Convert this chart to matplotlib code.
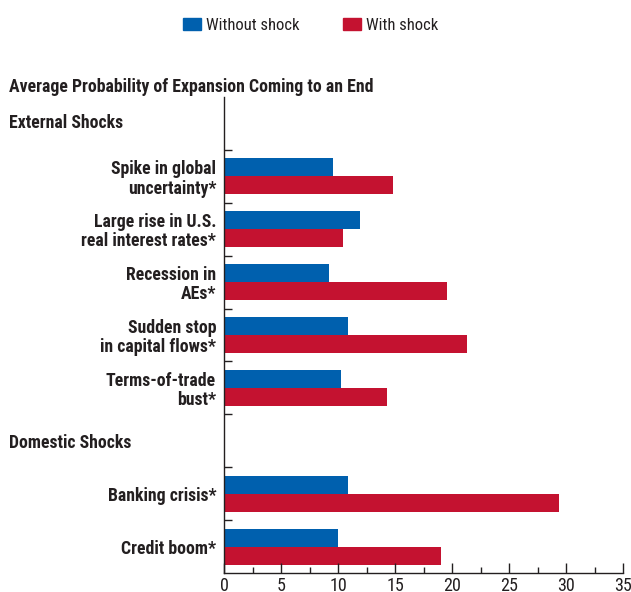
import matplotlib
matplotlib.use("Agg")
import matplotlib.pyplot as plt
import matplotlib.transforms as mtransforms
from matplotlib.patches import Patch
import numpy as np

plt.rcParams['font.family'] = ['Roboto Condensed', 'DejaVu Sans']

# Data
external = ['Spike in global\nuncertainty*', 'Large rise in U.S.\nreal interest rates*',
            'Recession in\nAEs*', 'Sudden stop\nin capital flows*', 'Terms-of-trade\nbust*']
external_without = [9.6, 11.9, 9.2, 10.9, 10.3]
external_with = [14.8, 10.4, 19.6, 21.3, 14.3]

domestic = ['Banking crisis*', 'Credit boom*']
domestic_without = [10.9, 10.0]
domestic_with = [29.4, 19.0]

blue = '#0060AE'
red = '#C41230'
ink = '#231f20'

# slot layout: header, 5 external, header, 2 domestic
ext_pos = np.arange(1, 6) + 0.5
dom_pos = np.arange(7, 9) + 0.5
h = 0.34

fig = plt.figure(figsize=(6.31, 5.92), dpi=100)
ax = fig.add_axes([224 / 631, 1 - 573 / 592, (623 - 224) / 631, (573 - 97) / 592])

ax.barh(ext_pos - h / 2, external_without, height=h, color=blue)
ax.barh(ext_pos + h / 2, external_with, height=h, color=red)
ax.barh(dom_pos - h / 2, domestic_without, height=h, color=blue)
ax.barh(dom_pos + h / 2, domestic_with, height=h, color=red)

ax.set_ylim(9, 0)
ax.set_xlim(0, 35)
ax.set_yticks(np.arange(1, 9))
ax.set_yticklabels([])
ax.set_xticks(np.arange(0, 36, 5))
ax.set_xticks(np.arange(0, 36, 2.5), minor=True)
ax.tick_params(axis='x', which='major', direction='in', length=7, width=1,
               labelsize=13, pad=3, colors=ink)
ax.tick_params(axis='x', which='minor', direction='in', length=4, width=1, colors=ink)
ax.tick_params(axis='y', direction='in', length=6, width=1, colors=ink)
for s in ['top', 'right']:
    ax.spines[s].set_visible(False)
for s in ['left', 'bottom']:
    ax.spines[s].set_linewidth(1)
    ax.spines[s].set_color(ink)

# category labels
for pos, lab in zip(list(ext_pos) + list(dom_pos), external + domestic):
    ax.text(-0.7, pos + 0.05, lab, ha='right', va='center', fontsize=12.8,
            fontweight='bold', color=ink, linespacing=1.08)

# section headers
trans = mtransforms.blended_transform_factory(fig.transFigure, ax.transData)
ax.text(9 / 631, 0.5, 'External Shocks', transform=trans, ha='left', va='center',
        fontsize=12.8, fontweight='bold', color=ink)
ax.text(9 / 631, 6.55, 'Domestic Shocks', transform=trans, ha='left', va='center',
        fontsize=12.8, fontweight='bold', color=ink)

fig.text(9 / 631, 1 - 87 / 592, 'Average Probability of Expansion Coming to an End',
         ha='left', va='center', fontsize=12.8, fontweight='bold', color=ink)

handles = [Patch(color=blue, label='Without shock'), Patch(color=red, label='With shock')]
fig.legend(handles=handles, loc='center', bbox_to_anchor=(311 / 631, 1 - 25 / 592), ncol=2,
           frameon=False, fontsize=12, handlelength=1.08, handleheight=0.7,
           handletextpad=0.3, columnspacing=2.6, borderaxespad=0, labelcolor=ink)

fig.savefig('out.png', dpi=100)
